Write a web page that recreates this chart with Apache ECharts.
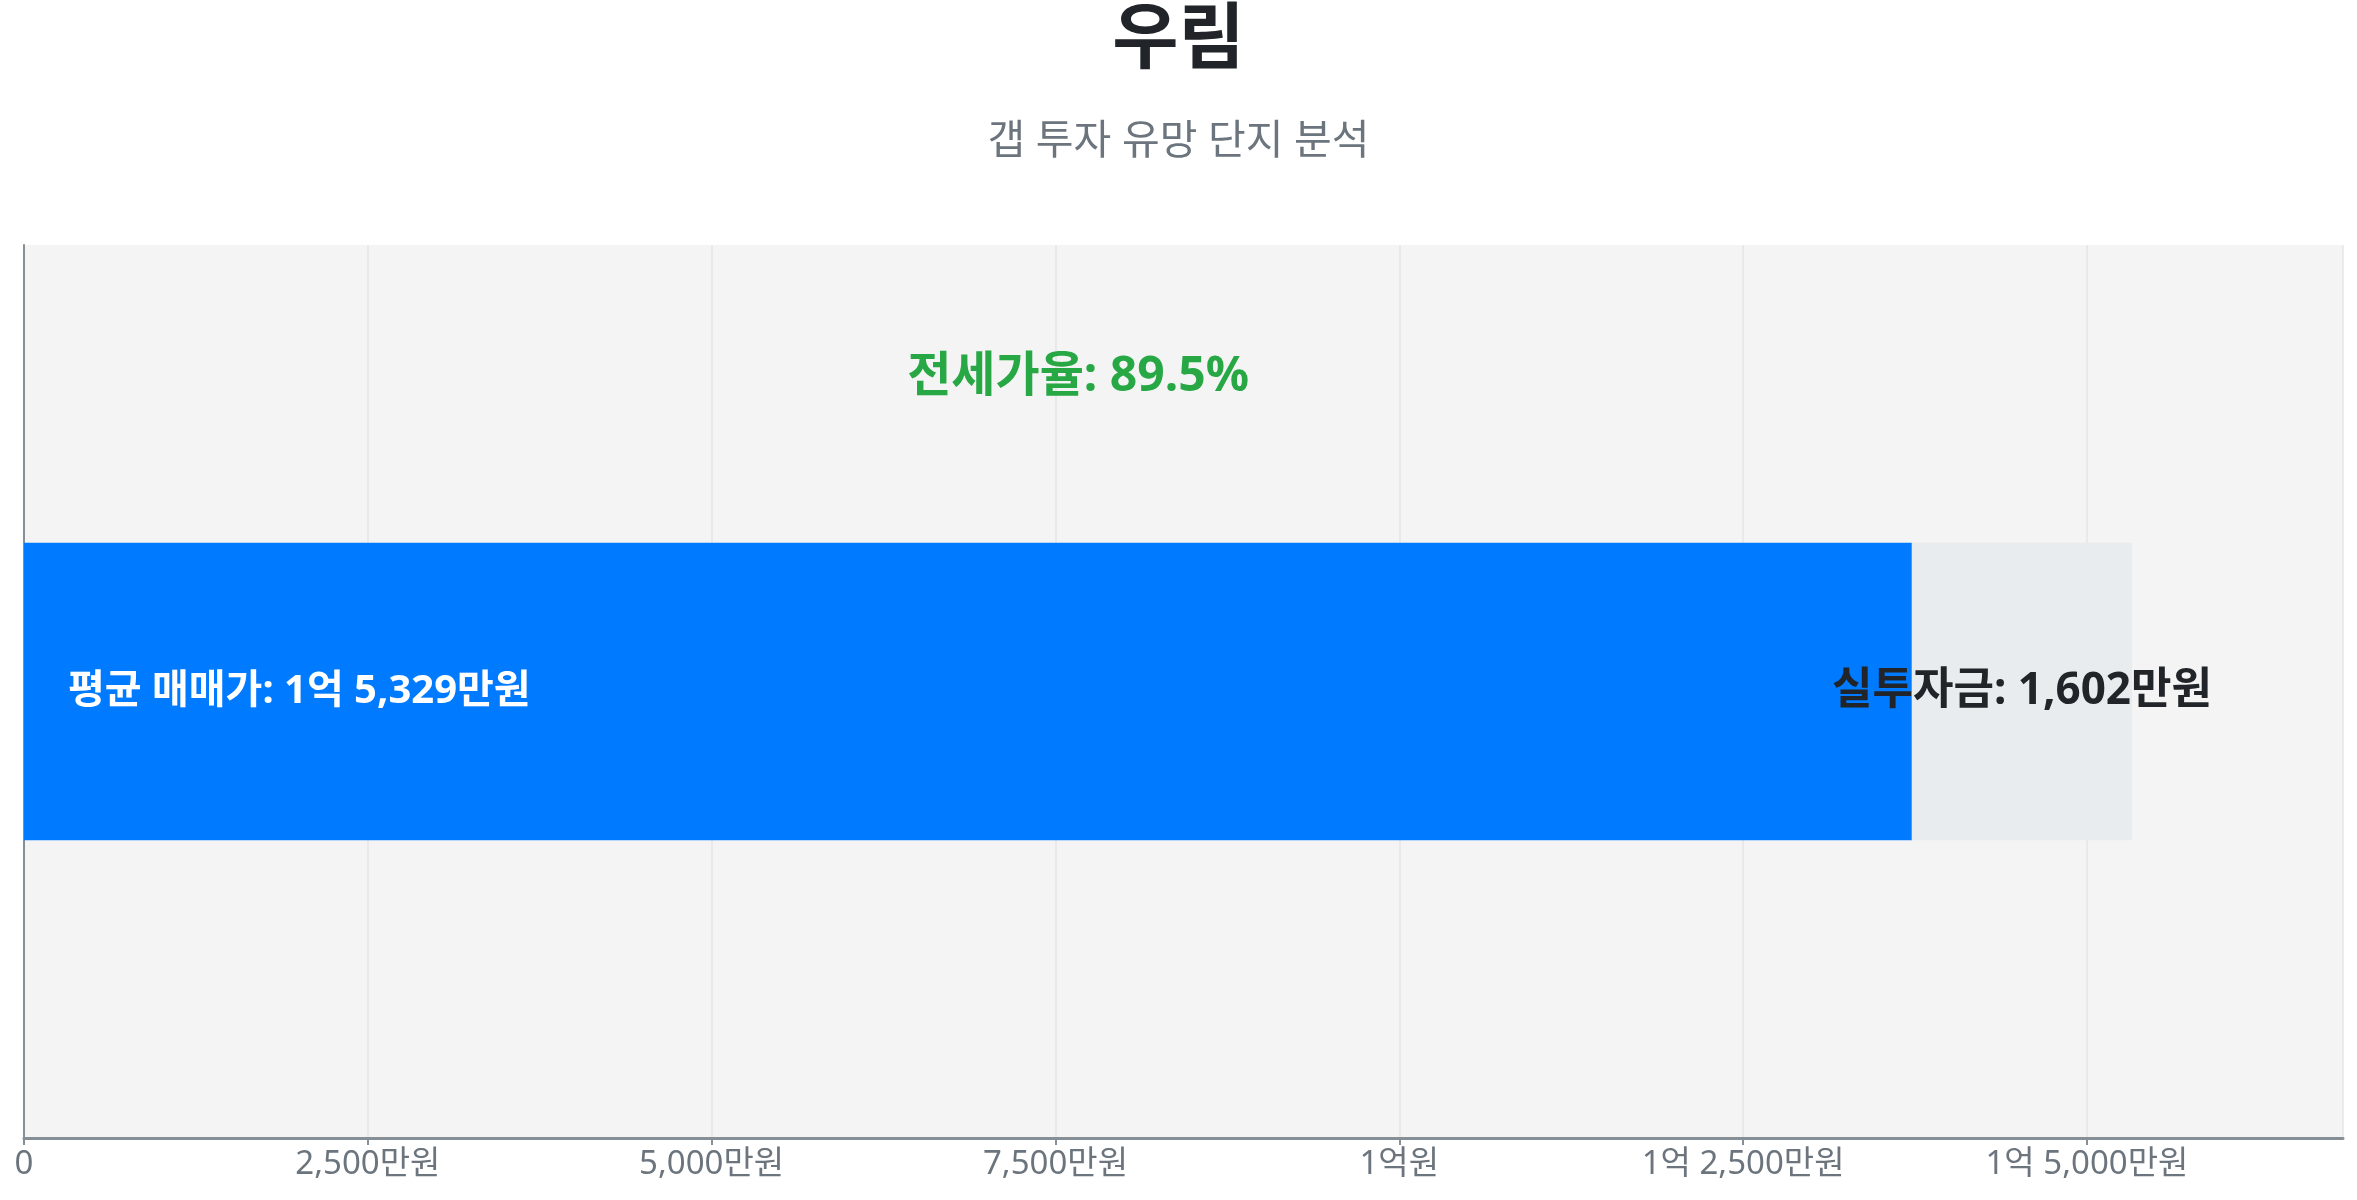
<!DOCTYPE html>
<html>
<head>
<meta charset="utf-8">
<script src="https://cdn.jsdelivr.net/npm/echarts@6/dist/echarts.min.js"></script>
<style>
  html, body { margin: 0; padding: 0; background: #fff; }
  #chart { width: 2357px; height: 1200px; }
</style>
</head>
<body>
<div id="chart"></div>
<script>
var danji = ['우림'];
var jeonsePrice = [13727];   // 전세가 (만원)
var gapAmount = [1602];      // 실투자금 (만원)
var salePrice = [15329];     // 평균 매매가 (만원)
var jeonseRatio = [89.5];

var FONT = '"Noto Sans", "Noto Sans CJK KR", sans-serif';

function won(v) {
    if (v === 0) return '0';
    var eok = Math.floor(v / 10000);
    var man = v % 10000;
    if (eok > 0) {
        if (man === 0) return eok + '억원';
        return eok + '억 ' + man.toLocaleString('en-US') + '만원';
    }
    return man.toLocaleString('en-US') + '만원';
}

var myChart = echarts.init(document.getElementById('chart'));

var option = {
    animation: false,
    title: {
        text: danji[0],
        subtext: '갭 투자 유망 단지 분석',
        left: 'center',
        top: 0,
        itemGap: 45,
        textStyle: { fontFamily: FONT, fontSize: 72, fontWeight: 'bold', color: '#212529' },
        subtextStyle: { fontFamily: FONT, fontSize: 41, color: '#6c757d' }
    },
    grid: {
        left: 24, right: 14, top: 245, bottom: 62,
        show: true, backgroundColor: '#f4f4f4', borderWidth: 0
    },
    xAxis: {
        type: 'value',
        min: 0,
        max: Math.round(salePrice[0] * 1.1),
        interval: 2500,
        axisLine: { show: true, lineStyle: { color: '#868e96', width: 3 } },
        axisTick: { show: true, length: 7, lineStyle: { color: '#868e96', width: 2 } },
        splitLine: { show: true, lineStyle: { color: '#e6e6e6', width: 1.5 } },
        axisLabel: {
            fontFamily: FONT, fontSize: 33, color: '#6c757d', margin: 10,
            showMaxLabel: false,
            formatter: won
        }
    },
    yAxis: {
        type: 'category',
        data: danji,
        axisLine: { show: true, lineStyle: { color: '#868e96', width: 2 } },
        axisTick: { show: false },
        axisLabel: { show: false }
    },
    series: [
        {
            name: '전세가',
            type: 'bar',
            stack: 'total',
            barWidth: '33.3%',
            data: jeonsePrice,
            itemStyle: { color: '#007bff' },
            label: {
                show: true,
                position: 'insideLeft',
                distance: 44,
                fontFamily: FONT, fontSize: 40, fontWeight: 'bold', color: '#ffffff',
                formatter: function (p) { return '평균 매매가: ' + won(salePrice[p.dataIndex]); }
            }
        },
        {
            name: '실투자금',
            type: 'bar',
            stack: 'total',
            data: gapAmount,
            itemStyle: { color: '#e9ecef' },
            label: {
                show: true,
                position: 'inside',
                fontFamily: FONT, fontSize: 44, fontWeight: 'bold', color: '#212529',
                formatter: function (p) { return '실투자금: ' + won(p.value); }
            }
        }
    ]
};

myChart.setOption(option);

// 전세가율 텍스트: 매매가 구간 가운데 위
var mid = myChart.convertToPixel({ gridIndex: 0 }, [salePrice[0] / 2, 0]);
myChart.setOption({
    graphic: [{
        type: 'text',
        x: mid[0],
        y: 377,
        style: {
            text: '전세가율: ' + jeonseRatio[0] + '%',
            fontFamily: FONT, fontSize: 48, fontWeight: 'bold',
            fill: '#28a745', align: 'center', verticalAlign: 'middle'
        }
    }]
});
</script>
</body>
</html>
